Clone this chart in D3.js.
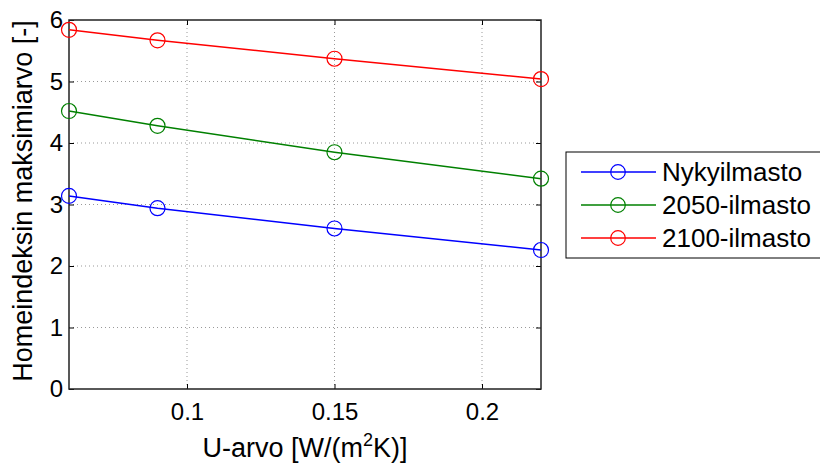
<!doctype html>
<html>
  <head>
    <meta charset="utf-8">
    <title>Homeindeksin maksimiarvo</title>
    <style>
      body { margin: 0; background: #fff; overflow: hidden; }
      svg text { font-family: "Liberation Sans", Arial, sans-serif; }
      .grid line { stroke: #999; stroke-width: 1; stroke-dasharray: 1,3; }
      .tick text { font-size: 24px; fill: #000; font-family: "Liberation Sans", Arial, sans-serif; }
    </style>
  </head>
  <body>
    <div id="chart"></div>
    <script src="https://cdn.jsdelivr.net/npm/d3@7"></script>
    <script>
      // data
      var uValues = [0.06, 0.09, 0.15, 0.22];
      var nykyilmasto = [3.14, 2.94, 2.61, 2.26];
      var ilmasto2050 = [4.52, 4.28, 3.85, 3.42];
      var ilmasto2100 = [5.84, 5.67, 5.37, 5.04];
      var seriesNames = ['Nykyilmasto', '2050-ilmasto', '2100-ilmasto'];
      var seriesColors = ['#0000ff', '#008000', '#ff0000'];
      var xTicks = [0.1, 0.15, 0.2];
      var yTicks = [0, 1, 2, 3, 4, 5, 6];

      (function() {
        var width = 820, height = 466;
        var mLeft = 69, mRight = 541, mTop = 20, mBottom = 389;

        var x = d3.scaleLinear().domain([0.06, 0.22]).range([mLeft, mRight]);
        var y = d3.scaleLinear().domain([0, 6]).range([mBottom, mTop]);

        var svg = d3.select('#chart').append('svg')
          .attr('width', width)
          .attr('height', height);

        // grid
        var grid = svg.append('g').attr('class', 'grid');
        grid.selectAll('.vx').data(xTicks).enter().append('line')
          .attr('x1', d => x(d)).attr('x2', d => x(d))
          .attr('y1', mTop).attr('y2', mBottom);
        grid.selectAll('.hy').data(yTicks.slice(1, -1)).enter().append('line')
          .attr('x1', mLeft).attr('x2', mRight)
          .attr('y1', d => y(d)).attr('y2', d => y(d));

        // axes, ticks inward on all four sides
        var fmt = d3.format('');
        svg.append('g').attr('transform', 'translate(0,' + mBottom + ')')
          .call(d3.axisBottom(x).tickValues(xTicks).tickFormat(fmt).tickSizeInner(-5).tickSizeOuter(0).tickPadding(14))
          .call(g => g.select('.domain').remove());
        svg.append('g').attr('transform', 'translate(0,' + mTop + ')')
          .call(d3.axisTop(x).tickValues(xTicks).tickFormat('').tickSizeInner(-5).tickSizeOuter(0))
          .call(g => g.select('.domain').remove());
        svg.append('g').attr('transform', 'translate(' + mLeft + ',0)')
          .call(d3.axisLeft(y).tickValues(yTicks).tickFormat(fmt).tickSizeInner(-5).tickSizeOuter(0).tickPadding(6))
          .call(g => g.select('.domain').remove());
        svg.append('g').attr('transform', 'translate(' + mRight + ',0)')
          .call(d3.axisRight(y).tickValues(yTicks).tickFormat('').tickSizeInner(-5).tickSizeOuter(0))
          .call(g => g.select('.domain').remove());
        svg.selectAll('.tick line').attr('stroke', '#000');

        svg.append('rect')
          .attr('x', mLeft).attr('y', mTop)
          .attr('width', mRight - mLeft).attr('height', mBottom - mTop)
          .attr('fill', 'none').attr('stroke', '#222').attr('stroke-width', 1.5);

        // series
        var allSeries = [nykyilmasto, ilmasto2050, ilmasto2100];
        var line = d3.line().x((d, i) => x(uValues[i])).y(d => y(d));

        allSeries.forEach(function(vals, k) {
          svg.append('path')
            .attr('d', line(vals))
            .attr('fill', 'none')
            .attr('stroke', seriesColors[k])
            .attr('stroke-width', 1.5);
          svg.selectAll('.m' + k).data(vals).enter().append('circle')
            .attr('cx', (d, i) => x(uValues[i]))
            .attr('cy', d => y(d))
            .attr('r', 7.5)
            .attr('fill', 'none')
            .attr('stroke', seriesColors[k])
            .attr('stroke-width', 1.2);
        });

        // axis labels
        svg.append('text')
          .attr('transform', 'translate(32,201) rotate(-90)')
          .attr('text-anchor', 'middle')
          .style('font-size', '27px')
          .text('Homeindeksin maksimiarvo [-]');

        var xl = svg.append('text')
          .attr('x', (mLeft + mRight) / 2)
          .attr('y', 457)
          .attr('text-anchor', 'middle')
          .style('font-size', '27px');
        xl.append('tspan').text('U-arvo [W/(m');
        xl.append('tspan').attr('dy', -11).style('font-size', '18px').text('2');
        xl.append('tspan').attr('dy', 11).text('K)]');

        // legend (its right edge runs past the picture, as in the original)
        var lg = svg.append('g');
        lg.append('rect')
          .attr('x', 566).attr('y', 152)
          .attr('width', 260).attr('height', 106)
          .attr('fill', '#fff').attr('stroke', '#000').attr('stroke-width', 1);
        var rows = [172, 205, 238];
        seriesNames.forEach(function(name, k) {
          lg.append('line')
            .attr('x1', 581).attr('x2', 656)
            .attr('y1', rows[k]).attr('y2', rows[k])
            .attr('stroke', seriesColors[k]).attr('stroke-width', 1.5);
          lg.append('circle')
            .attr('cx', 618).attr('cy', rows[k]).attr('r', 7.3)
            .attr('fill', 'none').attr('stroke', seriesColors[k]).attr('stroke-width', 1.2);
          lg.append('text')
            .attr('x', 662).attr('y', rows[k] + 9)
            .style('font-size', '26px')
            .text(name);
        });
      })();
    </script>
  </body>
</html>
